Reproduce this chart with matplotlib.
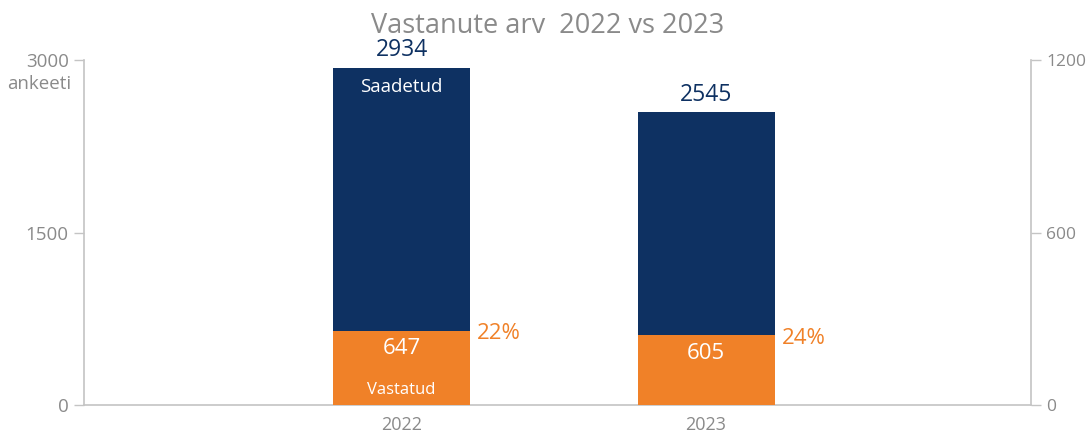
"""Survey responses, 2022 vs 2023: questionnaires sent vs answered."""
import matplotlib.pyplot as plt

plt.rcParams["font.family"] = ["Open Sans", "DejaVu Sans"]

years = ["2022", "2023"]
sent = [2934, 2545]
answered = [647, 605]

NAVY = "#0e3162"
ORANGE = "#f08128"
GREY = "#8a8a8a"
AXIS = "#c4c4c4"

fig = plt.figure(figsize=(10.88, 4.37), dpi=100)
ax = fig.add_axes([0.0772, 0.0732, 0.8704, 0.7895])
x = list(range(len(years)))
w = 0.45

ax.bar(x, sent, width=w, color=NAVY, zorder=2)
ax.bar(x, answered, width=w, color=ORANGE, zorder=3)

for i, (s, a) in enumerate(zip(sent, answered)):
    ax.annotate(f"{s}", (i, s), xytext=(0, 4), textcoords="offset points",
                ha="center", va="bottom", fontsize=16.5, color=NAVY)
    ax.annotate(f"{a}", (i, a), xytext=(0, -13), textcoords="offset points",
                ha="center", va="center", fontsize=16, color="white", zorder=4)
    ax.annotate(f"{round(100 * a / s)}%", (i + w / 2, a), xytext=(5, -2),
                textcoords="offset points", ha="left", va="center",
                fontsize=16, color=ORANGE)

ax.annotate("Saadetud", (0, sent[0]), xytext=(0, -14), textcoords="offset points",
            ha="center", va="center", fontsize=13.5, color="white")
ax.annotate("Vastatud", (0, 0), xytext=(0, 11), textcoords="offset points",
            ha="center", va="center", fontsize=12, color="white", zorder=4)

ax.set_xlim(-1.043, 2.067)
ax.set_ylim(0, 3000)
ax.set_xticks(x, years)
ax.set_yticks([0, 1500, 3000])
ax.tick_params(axis="x", length=0, pad=8, labelsize=13, labelcolor=GREY)
ax.tick_params(axis="y", length=7, width=1, color=AXIS, labelsize=13.5,
               labelcolor=GREY, pad=4)
for side in ["top", "right"]:
    ax.spines[side].set_visible(False)
for side in ["left", "bottom"]:
    ax.spines[side].set_color(AXIS)
    ax.spines[side].set_linewidth(1.2)
ax.text(-0.013, 0.93, "ankeeti", transform=ax.transAxes, ha="right", va="center",
        fontsize=13.5, color=GREY)

ax2 = ax.twinx()
ax2.set_ylim(0, 1200)
ax2.set_yticks([0, 600, 1200])
ax2.tick_params(axis="y", length=7, width=1, color=AXIS, labelsize=12.5,
                labelcolor=GREY, pad=4)
for side in ["top", "left", "bottom"]:
    ax2.spines[side].set_visible(False)
ax2.spines["right"].set_color(AXIS)
ax2.spines["right"].set_linewidth(1.2)

fig.text(0.503, 0.94, "Vastanute arv  2022 vs 2023", ha="center", va="center",
         fontsize=19.5, color=GREY)

fig.savefig("out.png", dpi=100)
